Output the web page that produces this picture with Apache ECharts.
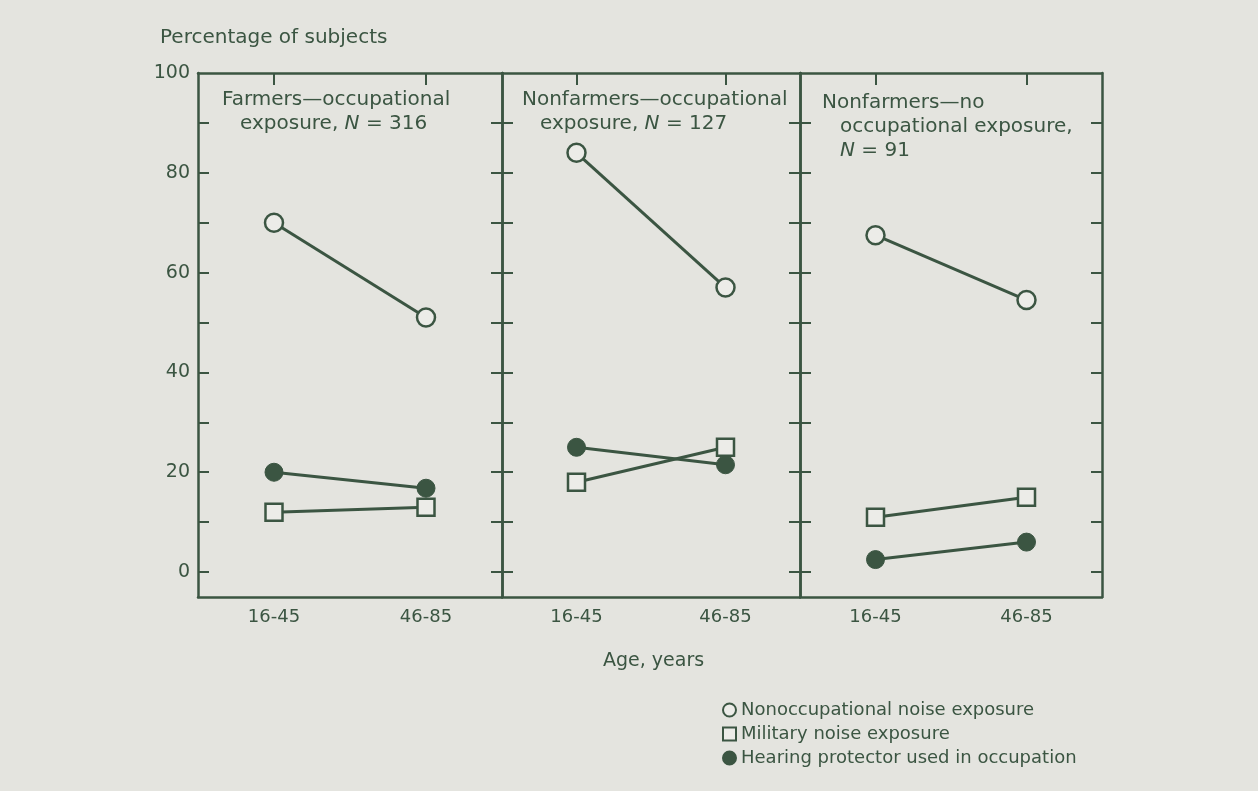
<!DOCTYPE html>
<html>
<head>
<meta charset="utf-8">
<script src="https://cdn.jsdelivr.net/npm/echarts@6/dist/echarts.min.js"></script>
<style>
  html, body { margin: 0; padding: 0; background: #e4e4df; }
  #chart { width: 1258px; height: 791px; }
</style>
</head>
<body>
<div id="chart"></div>
<script>
// data
const ageGroups = ['16-45', '46-85'];
const nonoccupational = [[70, 51], [84, 57], [67.5, 54.5]];
const military = [[12, 13], [18, 25], [11, 15]];
const protector = [[20, 16.8], [25, 21.5], [2.5, 6]];
const yTicks = [0, 10, 20, 30, 40, 50, 60, 70, 80, 90];
const yLabels = [0, 20, 40, 60, 80, 100];

const ink = '#3b5542';
const paper = '#ecece8';
const font = '"DejaVu Sans", "Liberation Sans", sans-serif';

const grids = [
    { left: 198, top: 73, width: 304, height: 524 },
    { left: 502, top: 73, width: 298, height: 524 },
    { left: 800, top: 73, width: 302, height: 524 }
];

let xAxes = [], yAxes = [], series = [];
grids.forEach((g, i) => {
    xAxes.push({
        type: 'category', gridIndex: i, position: 'bottom', data: ageGroups,
        axisLine: { onZero: false, lineStyle: { color: ink, width: 2.5 } },
        axisTick: { alignWithLabel: true, inside: true, length: 12, lineStyle: { color: ink, width: 2 } },
        axisLabel: { color: ink, fontSize: 18, fontFamily: font, margin: 11 }
    });
    yAxes.push({
        type: 'value', gridIndex: i, position: 'left', min: -5, max: 100,
        splitLine: { show: false },
        axisLine: { show: true, onZero: false, lineStyle: { color: ink, width: 2.5 } },
        axisTick: { show: true, inside: true, length: 11, customValues: yTicks, lineStyle: { color: ink, width: 2 } },
        axisLabel: { show: i === 0, customValues: yLabels, color: ink, fontSize: 19, fontFamily: font, margin: 8 }
    });
});
grids.forEach((g, i) => {
    // top edge: ticks only, labels kept but invisible so ticks line up with them
    xAxes.push({
        type: 'category', gridIndex: i, position: 'top', data: ageGroups,
        axisLine: { onZero: false, lineStyle: { color: ink, width: 2.5 } },
        axisTick: { show: true, alignWithLabel: true, inside: true, length: 12, lineStyle: { color: ink, width: 2 } },
        axisLabel: { show: true, color: 'rgba(0,0,0,0)', fontSize: 10 }
    });
    yAxes.push({
        type: 'value', gridIndex: i, position: 'right', min: -5, max: 100,
        splitLine: { show: false },
        axisLine: { show: true, onZero: false, lineStyle: { color: ink, width: 2.5 } },
        axisTick: { show: true, inside: true, length: 11, customValues: yTicks, lineStyle: { color: ink, width: 2 } },
        axisLabel: { show: false }
    });
});

grids.forEach((g, i) => {
    series.push({
        name: 'Nonoccupational noise exposure', type: 'line', xAxisIndex: i, yAxisIndex: i,
        data: nonoccupational[i], symbol: 'circle', symbolSize: 18,
        lineStyle: { color: ink, width: 3 },
        itemStyle: { color: paper, borderColor: ink, borderWidth: 2.5 }, z: 3
    });
    series.push({
        name: 'Military noise exposure', type: 'line', xAxisIndex: i, yAxisIndex: i,
        data: military[i], symbol: 'rect', symbolSize: 17,
        lineStyle: { color: ink, width: 3 },
        itemStyle: { color: paper, borderColor: ink, borderWidth: 2.5 }, z: 4
    });
    series.push({
        name: 'Hearing protector used in occupation', type: 'line', xAxisIndex: i, yAxisIndex: i,
        data: protector[i], symbol: 'circle', symbolSize: 18,
        lineStyle: { color: ink, width: 3 },
        itemStyle: { color: ink, borderColor: ink, borderWidth: 1 }, z: 3
    });
});

const rich = {
    n: { fontSize: 20, fontFamily: font, fill: ink, lineHeight: 24 },
    i: { fontSize: 20, fontFamily: font, fill: ink, fontStyle: 'italic', lineHeight: 24 }
};
function panelText(x, y, text) {
    return { type: 'text', left: x, top: y, style: { text: text, rich: rich } };
}

const chart = echarts.init(document.getElementById('chart'));
chart.setOption({
    backgroundColor: '#e4e4df',
    animation: false,
    grid: grids,
    xAxis: xAxes,
    yAxis: yAxes,
    series: series,
    legend: {
        orient: 'vertical', left: 722, top: 701, padding: 0, itemGap: 6, itemWidth: 13, itemHeight: 13,
        textStyle: { color: ink, fontSize: 18, fontFamily: font },
        data: [
            { name: 'Nonoccupational noise exposure', icon: 'circle' },
            { name: 'Military noise exposure', icon: 'rect' },
            { name: 'Hearing protector used in occupation', icon: 'circle' }
        ]
    },
    graphic: [
        { type: 'text', left: 160, top: 28, style: { text: 'Percentage of subjects', fill: ink, fontSize: 20, fontFamily: font } },
        { type: 'text', left: 603, top: 652, style: { text: 'Age, years', fill: ink, fontSize: 19, fontFamily: font } },
        panelText(222, 90, '{n|Farmers—occupational}'),
        panelText(240, 114, '{n|exposure, }{i|N}{n| = 316}'),
        panelText(522, 90, '{n|Nonfarmers—occupational}'),
        panelText(540, 114, '{n|exposure, }{i|N}{n| = 127}'),
        panelText(822, 93, '{n|Nonfarmers—no}'),
        panelText(840, 117, '{n|occupational exposure,}'),
        panelText(840, 141, '{i|N}{n| = 91}')
    ]
});
</script>
</body>
</html>
